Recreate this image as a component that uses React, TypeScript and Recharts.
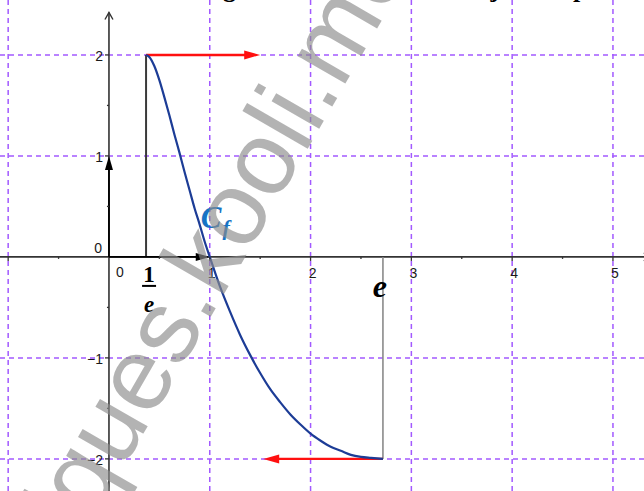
import React from "react";
import { ComposedChart, Line, XAxis, YAxis, ReferenceLine, ReferenceDot } from "recharts";

const W = 644;
const H = 491;
const X_DOMAIN: [number, number] = [-1.081, 5.308];
const Y_DOMAIN: [number, number] = [-2.318, 2.544];

// curve C_f
const curveX = [0.368, 0.4, 0.45, 0.5, 0.55, 0.6, 0.65, 0.7, 0.75, 0.8, 0.85, 0.9, 0.95, 1.0, 1.1, 1.2, 1.3, 1.4, 1.5, 1.6, 1.7, 1.8, 1.9, 2.0, 2.1, 2.2, 2.3, 2.4, 2.5, 2.6, 2.718];
const curveY = [2, 1.98, 1.89, 1.75, 1.58, 1.4, 1.21, 1.03, 0.84, 0.66, 0.48, 0.32, 0.15, 0, -0.29, -0.54, -0.77, -0.97, -1.15, -1.31, -1.44, -1.56, -1.66, -1.75, -1.82, -1.88, -1.92, -1.96, -1.98, -1.99, -2];

const gridX = [-1, 1, 2, 3, 4, 5];
const gridY = [-2, -1, 1, 2];
const xTicks = [1, 2, 3, 4, 5];
const xTickLabels = ["1", "2", "3", "4", "5"];
const yTicks = [2, 1, -1, -2];
const yTickLabels = ["2", "1", "\u22121", "\u22122"];
const minorX = [-0.5, 0.5, 1.5, 2.5, 3.5, 4.5];
const minorY = [-1.5, -0.5, 0.5, 1.5];

const INV_E = 0.368;
const E = 2.718;
const TOP_ARROW_END = 1.5;
const BOTTOM_ARROW_END = 1.53;

const data = curveX.map((x, i) => ({ x, y: curveY[i] }));

const GRID = "#a259ff";
const AXIS = "#333333";
const SANS = "'Liberation Sans', Arial, sans-serif";
const SERIF = "'Liberation Serif', 'DejaVu Serif', serif";

function arrow(color: string, width: number, head: number, half: number) {
  return (p: any) => {
    const { x1, y1, x2, y2 } = p;
    const dx = x2 - x1;
    const dy = y2 - y1;
    const len = Math.hypot(dx, dy) || 1;
    const ux = dx / len;
    const uy = dy / len;
    const bx = x2 - ux * head;
    const by = y2 - uy * head;
    const pts = `${x2},${y2} ${bx - uy * half},${by + ux * half} ${bx + uy * half},${by - ux * half}`;
    return (
      <g>
        <line x1={x1} y1={y1} x2={bx + ux} y2={by + uy} stroke={color} strokeWidth={width} strokeLinecap="butt" />
        <polygon points={pts} fill={color} />
      </g>
    );
  };
}

function axisLine(p: any) {
  const { x1, y1, x2, y2 } = p;
  const dx = x2 - x1;
  const dy = y2 - y1;
  const len = Math.hypot(dx, dy) || 1;
  const ux = dx / len;
  const uy = dy / len;
  const bx = x2 - ux * 7;
  const by = y2 - uy * 7;
  return (
    <g>
      <line x1={x1} y1={y1} x2={x2} y2={y2} stroke={AXIS} strokeWidth={1.6} />
      <polyline
        points={`${bx - uy * 4},${by + ux * 4} ${x2},${y2} ${bx + uy * 4},${by - ux * 4}`}
        fill="none"
        stroke={AXIS}
        strokeWidth={1.4}
      />
    </g>
  );
}

const plainLine = (color: string, width: number) => (p: any) =>
  <line x1={p.x1} y1={p.y1} x2={p.x2} y2={p.y2} stroke={color} strokeWidth={width} strokeLinecap="butt" />;

export default function App() {
  return (
    <div style={{ position: "absolute", left: 0, top: 0, width: W, height: H, overflow: "hidden", background: "#fff" }}>
      <ComposedChart width={W} height={H} data={data} margin={{ top: 0, right: 0, bottom: 0, left: 0 }}>
        <XAxis dataKey="x" type="number" domain={X_DOMAIN} allowDataOverflow hide />
        <YAxis type="number" domain={Y_DOMAIN} allowDataOverflow hide />

        {gridX.map((v) => (
          <ReferenceLine key={`gx${v}`} x={v} stroke={GRID} strokeWidth={1.5} strokeDasharray="5 4" />
        ))}
        {gridY.map((v) => (
          <ReferenceLine key={`gy${v}`} y={v} stroke={GRID} strokeWidth={1.5} strokeDasharray="5 4" />
        ))}

        <ReferenceLine segment={[{ x: X_DOMAIN[0], y: 0 }, { x: 5.375, y: 0 }]} ifOverflow="visible" shape={axisLine} />
        <ReferenceLine segment={[{ x: 0, y: Y_DOMAIN[0] }, { x: 0, y: 2.42 }]} ifOverflow="visible" shape={axisLine} />

        {[-1, ...xTicks].map((v) => (
          <ReferenceDot key={`tx${v}`} x={v} y={0} shape={(p: any) => <line x1={p.cx} y1={p.cy} x2={p.cx} y2={p.cy + 4} stroke={AXIS} strokeWidth={1.3} />} />
        ))}
        {minorX.map((v) => (
          <ReferenceDot key={`mx${v}`} x={v} y={0} shape={(p: any) => <line x1={p.cx} y1={p.cy} x2={p.cx} y2={p.cy + 2} stroke={AXIS} strokeWidth={1.3} />} />
        ))}
        {yTicks.map((v) => (
          <ReferenceDot key={`ty${v}`} x={0} y={v} shape={(p: any) => <line x1={p.cx - 4} y1={p.cy} x2={p.cx} y2={p.cy} stroke={AXIS} strokeWidth={1.3} />} />
        ))}
        {minorY.map((v) => (
          <ReferenceDot key={`my${v}`} x={0} y={v} shape={(p: any) => <line x1={p.cx - 2} y1={p.cy} x2={p.cx} y2={p.cy} stroke={AXIS} strokeWidth={1.3} />} />
        ))}

        {xTicks.map((v, i) => (
          <ReferenceDot
            key={`lx${v}`}
            x={v}
            y={0}
            shape={(p: any) => (
              <text x={p.cx + 2} y={p.cy + 21} textAnchor="middle" fontFamily={SANS} fontSize={14} fill="#1a1a1a">
                {xTickLabels[i]}
              </text>
            )}
          />
        ))}
        {yTicks.map((v, i) => (
          <ReferenceDot
            key={`ly${v}`}
            x={0}
            y={v}
            shape={(p: any) => (
              <text x={p.cx - 6} y={p.cy + 6} textAnchor="end" fontFamily={SANS} fontSize={14} fill="#1a1a1a">
                {yTickLabels[i]}
              </text>
            )}
          />
        ))}
        <ReferenceDot
          x={0}
          y={0}
          shape={(p: any) => (
            <g fontFamily={SANS} fontSize={14} fill="#1a1a1a">
              <text x={p.cx - 7} y={p.cy - 4} textAnchor="end">0</text>
              <text x={p.cx + 11} y={p.cy + 20} textAnchor="middle">0</text>
            </g>
          )}
        />

        <ReferenceLine segment={[{ x: INV_E, y: 0 }, { x: INV_E, y: 2 }]} shape={plainLine("#3a3a3a", 2)} />
        <ReferenceLine segment={[{ x: E, y: 0 }, { x: E, y: -2 }]} shape={plainLine("#8a8a8a", 1.6)} />

        <ReferenceLine segment={[{ x: 0, y: 0 }, { x: 1, y: 0 }]} shape={arrow("#000", 1.8, 14, 4)} />
        <ReferenceLine segment={[{ x: 0, y: 0 }, { x: 0, y: 1 }]} shape={arrow("#000", 1.8, 14, 4)} />
        <ReferenceLine segment={[{ x: INV_E, y: 2 }, { x: TOP_ARROW_END, y: 2 }]} shape={arrow("#ff1010", 2.4, 16, 4.5)} />
        <ReferenceLine segment={[{ x: E, y: -2 }, { x: BOTTOM_ARROW_END, y: -2 }]} shape={arrow("#ff1010", 2.4, 16, 4.5)} />

        <Line
          dataKey="y"
          type="monotone"
          stroke="#1c3c96"
          strokeWidth={2.2}
          dot={false}
          activeDot={false}
          isAnimationActive={false}
        />

        <ReferenceDot
          x={0.92}
          y={0.29}
          shape={(p: any) => (
            <text x={p.cx - 1} y={p.cy} fontFamily={SERIF} fontWeight="bold" fontStyle="italic" fill="#1773c4">
              <tspan fontSize={31}>C</tspan>
              <tspan fontSize={22} dy={7} dx={1}>f</tspan>
            </text>
          )}
        />
        <ReferenceDot
          x={INV_E}
          y={0}
          shape={(p: any) => (
            <g fontFamily={SERIF} fontWeight="bold" fill="#000">
              <text x={p.cx + 3} y={p.cy + 25} textAnchor="middle" fontSize={23}>1</text>
              <line x1={p.cx - 4} y1={p.cy + 29} x2={p.cx + 10} y2={p.cy + 29} stroke="#000" strokeWidth={2} />
              <text x={p.cx + 3} y={p.cy + 55} textAnchor="middle" fontSize={23} fontStyle="italic">e</text>
            </g>
          )}
        />
        <ReferenceDot
          x={E}
          y={0}
          shape={(p: any) => (
            <text x={p.cx - 3} y={p.cy + 40} textAnchor="middle" fontFamily={SERIF} fontWeight="bold" fontStyle="italic" fontSize={32} fill="#000">
              e
            </text>
          )}
        />
      </ComposedChart>

      <svg width={W} height={H} style={{ position: "absolute", left: 0, top: 0, pointerEvents: "none" }}>
        <g fontFamily={SERIF} fontWeight="bold" fontSize={26} fill="#000">
          <text y={-3}>
            <tspan x={236} textAnchor="end">Tracer la courbe de g</tspan>
          </text>
          <text y={-3}>
            <tspan x={256}>dans le cadre</tspan>
            <tspan x={466}>sujet</tspan>
            <tspan x={573}>puis</tspan>
          </text>
        </g>
        <g transform="translate(206,325) rotate(-60)" fontFamily={SANS} fontSize={104} fill="#8c8c8c" opacity={0.65}>
          <text x={0} y={0} textAnchor="end">www.mathematiques</text>
          <text x={0} y={0}>.kooli.me</text>
        </g>
      </svg>
    </div>
  );
}
